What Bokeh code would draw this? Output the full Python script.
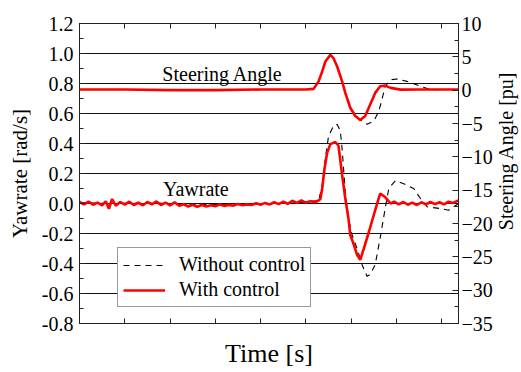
import math
from bokeh.plotting import figure
from bokeh.layouts import row
from bokeh.models import (Range1d, LinearAxis, FixedTicker, Label, Legend, LegendItem,
                          PrintfTickFormatter, CustomLabelingPolicy)
from bokeh.embed import file_html
from bokeh.resources import INLINE

# ---------------- data ----------------
# Yawrate [rad/s], with control (red)
yaw_ctrl_t = [0.0, 0.1, 0.2, 0.3, 0.4, 0.5, 0.58, 0.65, 0.72, 0.8, 0.9, 1.0, 1.1, 1.2, 1.3, 1.4,
              1.5, 1.6, 1.7, 1.8, 1.9, 2.0, 2.1, 2.2, 2.3, 2.4, 2.5, 2.6, 2.7, 2.8, 2.9, 3.0,
              3.1, 3.2, 3.3, 3.4, 3.5, 3.6, 3.7, 3.8, 3.9, 4.0, 4.1, 4.2, 4.3, 4.4, 4.5, 4.6,
              4.7, 4.8, 4.9, 5.0, 5.1, 5.2, 5.28, 5.32, 5.36, 5.41, 5.47, 5.54, 5.65, 5.72,
              5.80, 5.87, 5.94, 5.98, 6.06, 6.13, 6.20, 6.28, 6.39, 6.54, 6.64, 6.75, 6.87,
              6.95, 7.05, 7.15, 7.25, 7.35, 7.45, 7.55, 7.65, 7.75, 7.85, 7.95, 8.05, 8.15,
              8.25, 8.37]
yaw_ctrl_v = [0.010, -0.005, 0.012, -0.008, 0.006, -0.012, 0.015, -0.035, 0.030, -0.015, 0.010,
              -0.008, 0.012, -0.010, 0.005, -0.012, 0.010, -0.006, 0.014, -0.010, 0.006, -0.012,
              0.008, -0.015, -0.005, -0.020, -0.008, -0.022, -0.010, -0.020, -0.012, -0.018,
              -0.006, -0.016, -0.010, -0.014, -0.004, -0.012, -0.006, -0.010, 0.002, -0.008,
              0.004, -0.006, 0.008, -0.004, 0.012, -0.002, 0.018, 0.004, 0.020, 0.006, 0.015,
              0.008, 0.020, 0.030, 0.100, 0.230, 0.340, 0.396, 0.410, 0.385, 0.190, 0.033,
              -0.100, -0.210, -0.276, -0.342, -0.375, -0.300, -0.190, -0.034, 0.066, 0.043,
              0.000, 0.012, -0.006, 0.010, -0.008, 0.006, -0.010, 0.008, -0.006, 0.010, -0.004,
              0.008, -0.006, 0.012, 0.004, 0.020]

# Yawrate [rad/s], without control (black dashed)
yaw_nc_t = [0.0, 0.8, 1.6, 2.4, 3.2, 4.0, 4.8, 5.28, 5.36, 5.43, 5.50, 5.61, 5.69, 5.76, 5.80,
            5.87, 5.94, 6.02, 6.13, 6.24, 6.35, 6.42, 6.53, 6.64, 6.75, 6.83, 6.98, 7.16, 7.38,
            7.53, 7.68, 7.97, 8.15, 8.37]
yaw_nc_v = [0.005, 0.000, 0.004, -0.008, -0.006, -0.004, 0.004, 0.020, 0.120, 0.300, 0.450,
            0.517, 0.528, 0.484, 0.363, 0.077, -0.100, -0.210, -0.300, -0.408, -0.485, -0.474,
            -0.408, -0.230, -0.034, 0.100, 0.153, 0.132, 0.100, 0.033, -0.022, -0.034, -0.045,
            0.000]

# Steering angle [pu], with control (red)
steer_ctrl_t = [0.0, 1.0, 2.0, 3.0, 4.0, 5.0, 5.17, 5.28, 5.36, 5.43, 5.54, 5.61, 5.69, 5.80,
                5.87, 5.98, 6.09, 6.20, 6.31, 6.42, 6.53, 6.64, 6.75, 6.87, 7.09, 7.5, 8.0, 8.37]
steer_ctrl_v = [0.1, 0.1, 0.0, 0.0, 0.1, 0.1, 0.19, 1.32, 2.81, 4.29, 5.29, 4.80, 3.55, 1.32,
                -0.41, -2.64, -3.88, -4.48, -3.88, -2.15, -0.41, 0.58, 0.68, 0.34, 0.08, 0.1,
                0.1, 0.1]

# Steering angle [pu], without control (black dashed)
steer_nc_t = [0.0, 1.0, 2.0, 3.0, 4.0, 5.0, 5.17, 5.28, 5.36, 5.43, 5.54, 5.61, 5.69, 5.80,
              5.87, 5.91, 6.02, 6.17, 6.35, 6.50, 6.61, 6.68, 6.75, 6.87, 7.01, 7.23, 7.53,
              7.75, 8.0, 8.37]
steer_nc_v = [0.1, 0.1, 0.0, 0.0, 0.1, 0.1, 0.19, 1.32, 2.81, 4.29, 5.29, 4.80, 3.55, 1.32,
              -0.41, -1.15, -3.14, -4.27, -5.12, -4.63, -3.14, -1.40, 0.58, 1.57, 1.68, 1.32,
              0.58, 0.08, 0.1, 0.1]

yaw_ticks = [-0.8, -0.6, -0.4, -0.2, 0.0, 0.2, 0.4, 0.6, 0.8, 1.0, 1.2]
yaw_minor = [-0.7, -0.5, -0.3, -0.1, 0.1, 0.3, 0.5, 0.7, 0.9, 1.1]
steer_ticks = [-35, -30, -25, -20, -15, -10, -5, 0, 5, 10]
steer_minor = [-32.5, -27.5, -22.5, -17.5, -12.5, -7.5, -2.5, 2.5, 7.5]
time_ticks = [0, 1, 2, 3, 4, 5, 6, 7, 8]

FONT = "Liberation Serif"
AX = "#222222"
H = 370

p = figure(width=496, height=H, output_backend="svg", toolbar_location=None,
           x_range=Range1d(0, 8.37), y_range=Range1d(-0.8, 1.2),
           min_border_left=79, min_border_top=23, min_border_right=38, min_border_bottom=44)
p.extra_y_ranges = {"steer": Range1d(-35, 10)}
p.background_fill_color = "white"
p.border_fill_color = "white"
p.outline_line_color = AX
p.outline_line_width = 1

# grids
p.xgrid.visible = False
p.ygrid.ticker = FixedTicker(ticks=yaw_ticks)
p.ygrid.grid_line_color = "#111111"
p.ygrid.grid_line_width = 1

no_labels = CustomLabelingPolicy(code="""
    for (const i of Array.from(indices)) indices.unset(i)
    return indices
""")

def style_axis(ax):
    ax.axis_line_color = AX
    ax.major_tick_line_color = AX
    ax.minor_tick_line_color = AX
    ax.major_tick_out = 0
    ax.minor_tick_out = 0
    ax.major_tick_in = 6
    ax.minor_tick_in = 4
    ax.major_label_text_font = FONT
    ax.major_label_text_font_size = "20px"
    ax.major_label_text_color = "black"
    ax.axis_label_text_font = FONT
    ax.axis_label_text_font_style = "normal"
    ax.axis_label_text_color = "black"

# left axis
ly = p.yaxis[0]
style_axis(ly)
ly.ticker = FixedTicker(ticks=yaw_ticks, minor_ticks=yaw_minor)
ly.formatter = PrintfTickFormatter(format="%.1f")
ly.axis_label = "Yawrate [rad/s]"
ly.axis_label_text_font_size = "21px"
ly.major_label_standoff = 6
ly.axis_label_standoff = 7

# bottom axis (ticks only, no tick labels)
bx = p.xaxis[0]
style_axis(bx)
bx.ticker = FixedTicker(ticks=time_ticks)
bx.major_label_policy = no_labels
bx.major_label_text_font_size = "1px"
bx.major_tick_in = 5
bx.axis_label = "Time [s]"
bx.axis_label_text_font_size = "26px"
bx.major_label_standoff = 0
bx.axis_label_standoff = 11

# top axis
tx = LinearAxis(ticker=FixedTicker(ticks=time_ticks))
style_axis(tx)
tx.major_label_policy = no_labels
tx.major_label_text_font_size = "1px"
tx.major_tick_in = 5
tx.major_label_standoff = 0
p.add_layout(tx, "above")

# right axis (title drawn in the narrow panel to its right, reading bottom-to-top)
ry = LinearAxis(y_range_name="steer", ticker=FixedTicker(ticks=steer_ticks, minor_ticks=steer_minor))
style_axis(ry)
ry.major_label_standoff = 3
p.add_layout(ry, "right")

# lines
r_nc1 = p.line(steer_nc_t, steer_nc_v, y_range_name="steer", line_color="black",
               line_width=1.1, line_dash="6 5")
r_nc2 = p.line(yaw_nc_t, yaw_nc_v, line_color="black", line_width=1.1, line_dash="6 5")
r_c1 = p.line(steer_ctrl_t, steer_ctrl_v, y_range_name="steer", line_color="#ff0000", line_width=2.6)
r_c2 = p.line(yaw_ctrl_t, yaw_ctrl_v, line_color="#ff0000", line_width=2.6)

# text labels
p.add_layout(Label(x=3.16, y=0.865, text="Steering Angle", text_font=FONT, text_font_size="20px",
                   text_align="center", text_baseline="middle", text_color="black"))
p.add_layout(Label(x=2.57, y=0.099, text="Yawrate", text_font=FONT, text_font_size="20px",
                   text_align="center", text_baseline="middle", text_color="black"))

legend = Legend(items=[LegendItem(label="Without control", renderers=[r_nc2]),
                       LegendItem(label="With control", renderers=[r_c2])],
                location=(38, 16))
legend.label_text_font = FONT
legend.label_text_font_size = "20px"
legend.label_text_color = "black"
legend.glyph_width = 42
legend.glyph_height = 16
legend.label_standoff = 14
legend.label_height = 16
legend.spacing = 2
legend.padding = 5
legend.margin = 0
legend.border_line_color = "#333333"
legend.border_line_width = 1
legend.background_fill_color = "white"
legend.background_fill_alpha = 1
p.add_layout(legend, "center")

# narrow panel holding the right-axis title
q = figure(width=25, height=H, output_backend="svg", toolbar_location=None,
           x_range=Range1d(0, 1), y_range=Range1d(0, 1), x_axis_type=None, y_axis_type=None,
           min_border_left=0, min_border_right=0, min_border_top=0, min_border_bottom=0)
q.outline_line_color = None
q.background_fill_color = "white"
q.border_fill_color = "white"
q.xgrid.visible = False
q.ygrid.visible = False
q.add_layout(Label(x=0.38, y=1 - 157 / H, text="Steering Angle [pu]", text_font=FONT,
                   text_font_size="20px", text_align="center", text_baseline="middle",
                   angle=math.pi / 2, text_color="black"))

layout = row(p, q, spacing=0)
open("out.html", "w").write(file_html(layout, INLINE))
